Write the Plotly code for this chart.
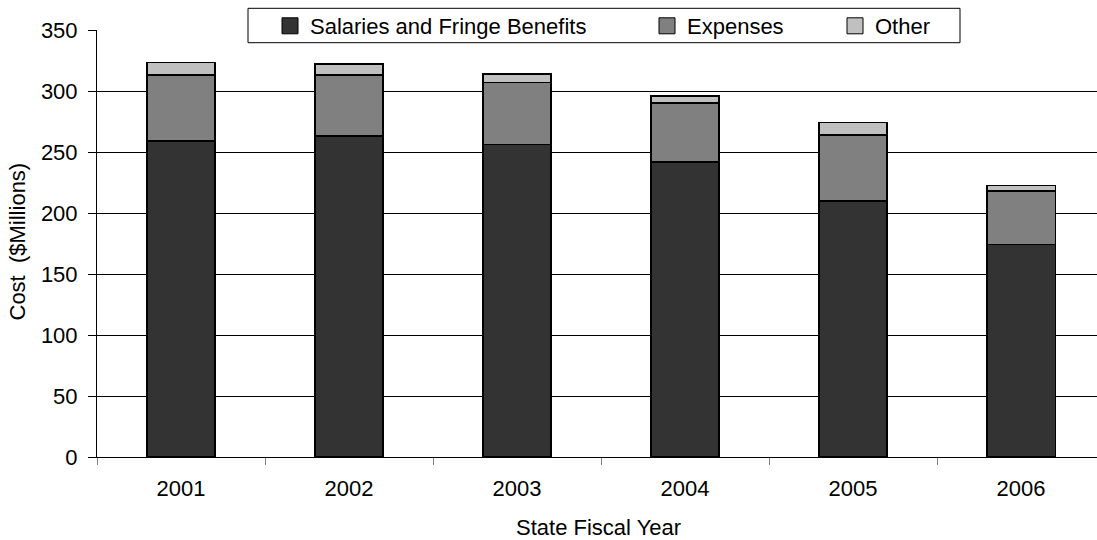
import plotly.graph_objects as go

years = ["2001", "2002", "2003", "2004", "2005", "2006"]
salaries = [259, 263, 256, 242, 210, 174]
expenses = [54, 50, 51, 48, 54, 44]
other = [10.5, 9, 7, 6, 10, 4.6]

series_names = ["Salaries and Fringe Benefits", "Expenses", "Other"]
series_colors = ["#333333", "#808080", "#C0C0C0"]
y_ticks = [0, 50, 100, 150, 200, 250, 300, 350]

FONT = "Liberation Sans, Arial, sans-serif"

fig = go.Figure()
for name, vals, col in zip(series_names, [salaries, expenses, other], series_colors):
    fig.add_trace(go.Bar(
        x=years, y=vals, name=name, showlegend=False,
        marker=dict(color=col, line=dict(color="#000000", width=1.5)),
    ))

legend_ids = ["legend", "legend2", "legend3"]
for name, col, lid in zip(series_names, series_colors, legend_ids):
    fig.add_trace(go.Scatter(
        x=[None], y=[None], mode="markers", name=name, legend=lid,
        marker=dict(symbol="square", size=16, color=col, line=dict(color="#000000", width=1)),
    ))

# plot area: x from 97px to 1097px (1000px), y from 30px to 457px (427px)
def px_x(p):
    return (p - 97) / 1000.0

def px_y(p):
    return (457 - p) / 427.0

leg_common = dict(orientation="h", bgcolor="rgba(0,0,0,0)", borderwidth=0,
                  font=dict(family=FONT, size=22, color="#000000"),
                  xanchor="left", yanchor="middle", y=px_y(26))

fig.update_layout(
    width=1097, height=540, autosize=False,
    margin=dict(l=97, r=0, t=30, b=83),
    paper_bgcolor="#ffffff", plot_bgcolor="#ffffff",
    barmode="stack", bargap=0.593,
    font=dict(family=FONT, size=22, color="#000000"),
    legend=dict(x=px_x(270), **leg_common),
    legend2=dict(x=px_x(647), **leg_common),
    legend3=dict(x=px_x(835), **leg_common),
    xaxis=dict(
        type="category", range=[-0.5, 5.452], tickson="boundaries",
        ticks="outside", ticklen=7, tickcolor="#808080", tickwidth=1,
        showline=True, linecolor="#000000", linewidth=1,
        showgrid=False, zeroline=False, ticklabelstandoff=12,
        tickfont=dict(family=FONT, size=22, color="#000000"),
    ),
    yaxis=dict(
        range=[0, 350], tickvals=y_ticks, ticktext=[str(v) for v in y_ticks],
        ticks="outside", ticklen=8, tickcolor="#000000", tickwidth=1,
        showline=True, linecolor="#000000", linewidth=1,
        showgrid=True, gridcolor="#000000", gridwidth=1, zeroline=False,
        ticklabelstandoff=6,
        tickfont=dict(family=FONT, size=22, color="#000000"),
    ),
    shapes=[dict(type="rect", xref="paper", yref="paper",
                 x0=px_x(248), x1=px_x(960), y0=px_y(42.7), y1=px_y(8.3),
                 fillcolor="#ffffff", line=dict(color="#000000", width=1), layer="above")],
    annotations=[
        dict(text="State Fiscal Year", xref="paper", yref="paper",
             x=px_x(598), y=px_y(527), showarrow=False, xanchor="center", yanchor="middle",
             font=dict(family=FONT, size=22, color="#000000")),
        dict(text="Cost  ($Millions)", xref="paper", yref="paper", textangle=-90,
             x=px_x(17), y=px_y(241.5), showarrow=False, xanchor="center", yanchor="middle",
             font=dict(family=FONT, size=22, color="#000000")),
    ],
)

fig.write_html("out.html")
